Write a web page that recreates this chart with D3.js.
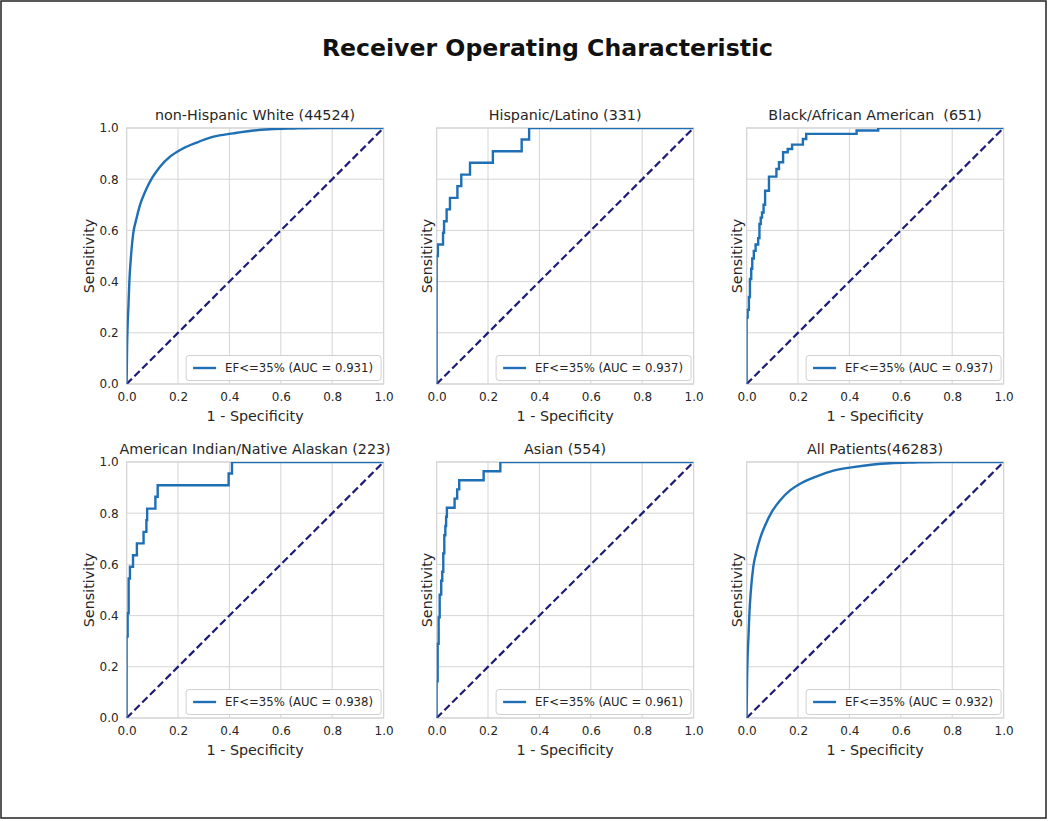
<!DOCTYPE html>
<html>
<head>
<meta charset="utf-8">
<script src="https://cdn.jsdelivr.net/npm/d3@7"></script>
<style>
  html, body { margin: 0; padding: 0; background: #fff; }
  svg { display: block; font-family: "DejaVu Sans", sans-serif; }
</style>
</head>
<body>
<svg id="chart" width="1050" height="821"></svg>
<script>
// ---------- DATA ----------
const chartTitle = "Receiver Operating Characteristic";
const panelTitles = [
  "non-Hispanic White (44524)",
  "Hispanic/Latino (331)",
  "Black/African American  (651)",
  "American Indian/Native Alaskan (223)",
  "Asian (554)",
  "All Patients(46283)"
];
const aucValues = [0.931, 0.937, 0.937, 0.938, 0.961, 0.932];
const seriesLabel = "EF<=35%";
const xTicks = [0.0, 0.2, 0.4, 0.6, 0.8, 1.0];
const yTicks = [0.0, 0.2, 0.4, 0.6, 0.8, 1.0];
const xLabel = "1 - Specificity";
const yLabel = "Sensitivity";

// ROC points [fpr, tpr]
const whiteRoc = [[0,0],[0.002,0.15],[0.004,0.23],[0.007,0.30],[0.011,0.406],[0.016,0.484],[0.026,0.589],[0.037,0.641],[0.052,0.699],[0.072,0.751],[0.098,0.803],[0.13,0.849],[0.169,0.888],[0.214,0.917],[0.273,0.943],[0.338,0.966],[0.415,0.979],[0.493,0.99],[0.558,0.995],[0.65,0.998],[0.75,1],[1,1]];
const hispanicRoc = [[0,0],[0,0.5],[0.005,0.5],[0.005,0.545],[0.025,0.545],[0.025,0.591],[0.029,0.591],[0.029,0.636],[0.039,0.636],[0.039,0.682],[0.052,0.682],[0.052,0.727],[0.081,0.727],[0.081,0.773],[0.096,0.773],[0.096,0.818],[0.130,0.818],[0.130,0.864],[0.219,0.864],[0.219,0.909],[0.331,0.909],[0.331,0.955],[0.360,0.955],[0.360,1],[1,1]];
const blackRoc = [[0,0],[0,0.26],[0.004,0.26],[0.004,0.29],[0.009,0.29],[0.009,0.34],[0.013,0.34],[0.013,0.41],[0.018,0.41],[0.018,0.45],[0.022,0.45],[0.022,0.49],[0.028,0.49],[0.028,0.52],[0.035,0.52],[0.035,0.545],[0.045,0.545],[0.045,0.57],[0.050,0.57],[0.050,0.625],[0.055,0.625],[0.055,0.65],[0.060,0.65],[0.060,0.67],[0.066,0.67],[0.066,0.70],[0.072,0.70],[0.072,0.755],[0.087,0.755],[0.087,0.81],[0.116,0.81],[0.116,0.84],[0.126,0.84],[0.126,0.866],[0.142,0.866],[0.142,0.905],[0.160,0.905],[0.160,0.918],[0.177,0.918],[0.177,0.935],[0.219,0.935],[0.219,0.957],[0.232,0.957],[0.232,0.977],[0.428,0.977],[0.428,0.99],[0.512,0.99],[0.512,1],[1,1]];
const indianRoc = [[0,0],[0,0.318],[0.004,0.318],[0.004,0.409],[0.008,0.409],[0.008,0.545],[0.013,0.545],[0.013,0.591],[0.025,0.591],[0.025,0.636],[0.040,0.636],[0.040,0.682],[0.066,0.682],[0.066,0.727],[0.077,0.727],[0.077,0.773],[0.080,0.773],[0.080,0.818],[0.112,0.818],[0.112,0.864],[0.121,0.864],[0.121,0.909],[0.397,0.909],[0.397,0.955],[0.410,0.955],[0.410,1],[1,1]];
const asianRoc = [[0,0],[0,0.143],[0.004,0.143],[0.004,0.29],[0.008,0.29],[0.008,0.393],[0.012,0.393],[0.012,0.482],[0.018,0.482],[0.018,0.536],[0.022,0.536],[0.022,0.571],[0.026,0.571],[0.026,0.643],[0.030,0.643],[0.030,0.714],[0.034,0.714],[0.034,0.75],[0.037,0.75],[0.037,0.786],[0.040,0.786],[0.040,0.821],[0.070,0.821],[0.070,0.857],[0.080,0.857],[0.080,0.893],[0.088,0.893],[0.088,0.929],[0.183,0.929],[0.183,0.964],[0.248,0.964],[0.248,1],[1,1]];
const allRoc = [[0,0],[0.002,0.16],[0.004,0.24],[0.007,0.31],[0.011,0.41],[0.016,0.49],[0.026,0.59],[0.037,0.645],[0.052,0.70],[0.072,0.752],[0.098,0.805],[0.13,0.85],[0.169,0.889],[0.214,0.918],[0.273,0.944],[0.338,0.966],[0.415,0.98],[0.493,0.99],[0.558,0.995],[0.65,0.998],[0.75,1],[1,1]];
const chanceLine = [[0,0],[1,1]];

const rocSeries = [whiteRoc, hispanicRoc, blackRoc, indianRoc, asianRoc, allRoc];
const smoothSeries = [true, false, false, false, false, true];

// ---------- LAYOUT ----------
const svg = d3.select("#chart");
const colX = [126.6, 436.6, 746.6];
const rowY = [128, 462];
const pw = 257, ph = 256;
const textColor = "#262626";
const gridColor = "#d5d5d5";
const curveColor = "#1f6fb5";
const diagColor = "#1d1d78";

// outer frame
svg.append("rect").attr("x", 1).attr("y", 1).attr("width", 1045).attr("height", 817)
  .attr("fill", "none").attr("stroke", "#222").attr("stroke-width", 1.5);

svg.append("text").attr("x", 547.5).attr("y", 55.5).attr("text-anchor", "middle")
  .attr("font-size", 23.6).attr("font-weight", "bold").attr("fill", "#111").text(chartTitle);

const x = d3.scaleLinear().domain([0, 1]).range([0, pw]);
const y = d3.scaleLinear().domain([0, 1]).range([ph, 0]);

rocSeries.forEach((data, i) => {
  const col = i % 3, row = Math.floor(i / 3);
  const g = svg.append("g").attr("transform", `translate(${colX[col]},${rowY[row]})`);

  // clip
  const cid = "clip" + i;
  g.append("clipPath").attr("id", cid).append("rect").attr("x", 0).attr("y", 0).attr("width", pw).attr("height", ph);

  // grid
  g.append("g").selectAll("line").data(xTicks).join("line")
    .attr("x1", d => x(d)).attr("x2", d => x(d)).attr("y1", 0).attr("y2", ph)
    .attr("stroke", gridColor).attr("stroke-width", 1);
  g.append("g").selectAll("line").data(yTicks).join("line")
    .attr("y1", d => y(d)).attr("y2", d => y(d)).attr("x1", 0).attr("x2", pw)
    .attr("stroke", gridColor).attr("stroke-width", 1);

  // x axis tick labels
  const xa = g.append("g").attr("transform", `translate(0,${ph})`)
    .call(d3.axisBottom(x).tickValues(xTicks).tickFormat(d3.format(".1f")).tickSize(0).tickPadding(8));
  xa.select(".domain").remove();
  xa.selectAll("text").attr("font-size", 12).attr("fill", textColor).attr("font-family", "DejaVu Sans");

  if (col === 0) {
    const ya = g.append("g")
      .call(d3.axisLeft(y).tickValues(yTicks).tickFormat(d3.format(".1f")).tickSize(0).tickPadding(8));
    ya.select(".domain").remove();
    ya.selectAll("text").attr("font-size", 12).attr("fill", textColor).attr("font-family", "DejaVu Sans");
  }

  // frame
  g.append("rect").attr("width", pw).attr("height", ph).attr("fill", "none")
    .attr("stroke", gridColor).attr("stroke-width", 1.2);

  // diagonal
  g.append("path").datum(chanceLine)
    .attr("d", d3.line().x(d => x(d[0])).y(d => y(d[1])))
    .attr("fill", "none").attr("stroke", diagColor).attr("stroke-width", 2.2)
    .attr("stroke-dasharray", "7.5,3.5").attr("clip-path", `url(#${cid})`);

  // ROC curve
  const line = d3.line().x(d => x(d[0])).y(d => y(d[1]))
    .curve(smoothSeries[i] ? d3.curveMonotoneX : d3.curveLinear);
  g.append("path").datum(data).attr("d", line)
    .attr("fill", "none").attr("stroke", curveColor).attr("stroke-width", 2.4)
    .attr("stroke-linejoin", "miter").attr("clip-path", `url(#${cid})`);

  // titles & labels
  g.append("text").attr("x", pw / 2).attr("y", -8).attr("text-anchor", "middle")
    .attr("font-size", 14.3).attr("fill", textColor).style("white-space", "pre")
    .attr("xml:space", "preserve").text(panelTitles[i]);
  g.append("text").attr("x", pw / 2).attr("y", ph + 37).attr("text-anchor", "middle")
    .attr("font-size", 14.3).attr("fill", textColor).text(xLabel);
  const ylx = col === 0 ? -33 : -5;
  g.append("text").attr("transform", `translate(${ylx},${ph / 2}) rotate(-90)`)
    .attr("text-anchor", "middle").attr("font-size", 14.3).attr("fill", textColor).text(yLabel);

  // legend
  const lw = 195, lh = 25;
  const lg = g.append("g").attr("transform", `translate(${pw - 2.5 - lw},${ph - 3.5 - lh})`);
  lg.append("rect").attr("width", lw).attr("height", lh).attr("rx", 3)
    .attr("fill", "#fff").attr("fill-opacity", 0.85).attr("stroke", "#d0d0d0");
  lg.append("line").attr("x1", 7).attr("x2", 30).attr("y1", lh / 2).attr("y2", lh / 2)
    .attr("stroke", curveColor).attr("stroke-width", 2.4);
  lg.append("text").attr("x", 39).attr("y", lh / 2 + 4.2).attr("font-size", 11.7).attr("fill", textColor)
    .text(`${seriesLabel} (AUC = ${aucValues[i].toFixed(3)})`);
});
</script>
</body>
</html>
